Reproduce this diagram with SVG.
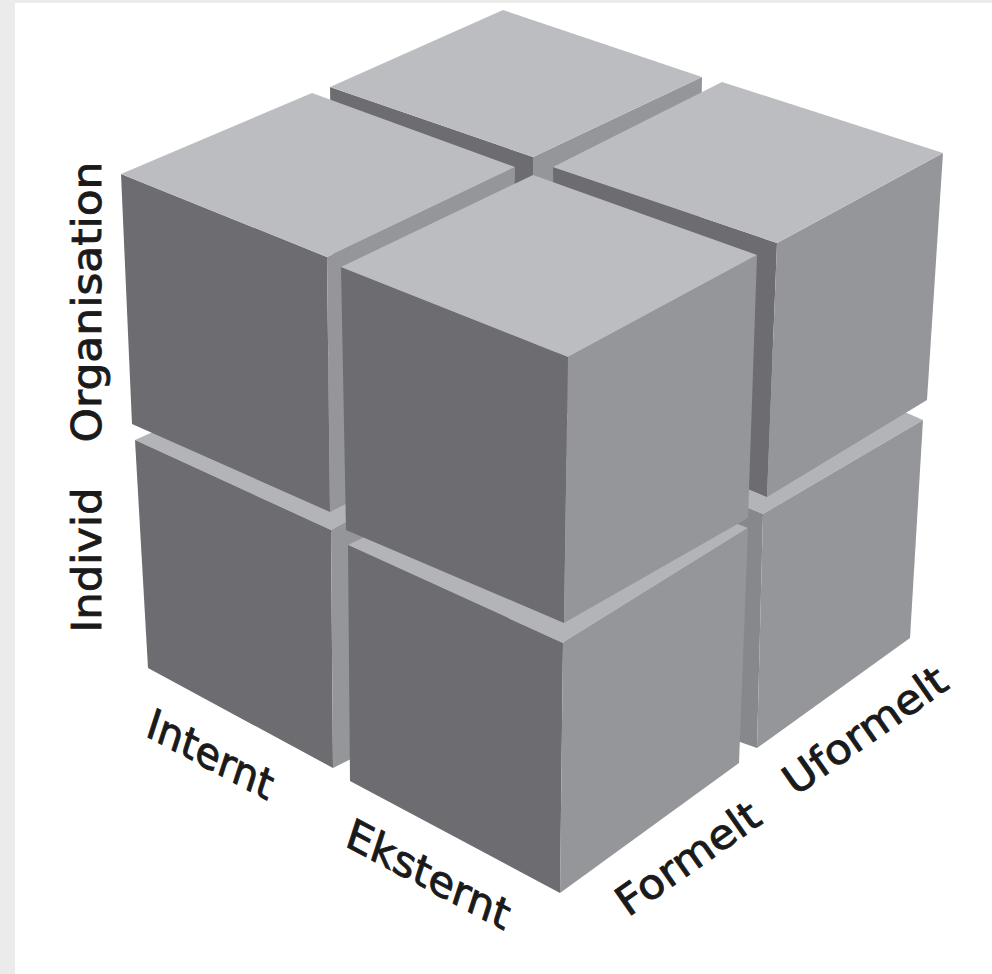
<svg xmlns="http://www.w3.org/2000/svg" width="992" height="974" viewBox="0 0 992 974">
<style>
.top{fill:#bcbdc1}
.band{fill:#b3b4b8}
.dk{fill:#6d6d71}
.md{fill:#95969a}
.md2{fill:#87888c}
.lbl{font-family:"DejaVu Sans","Liberation Sans",sans-serif;font-size:41px;fill:#1a1a1a;stroke:#1a1a1a;stroke-width:0.9px}
</style>
<rect x="0" y="0" width="992" height="974" fill="#ebebeb"/>
<rect x="15" y="3" width="977" height="971" fill="#ffffff"/>

<g id="cube-back-top">
<polygon class="dk" points="330,87 533,157 533,400 334,330"/>
<polygon class="md" points="533,157 702,77 698,330 533,400"/>
<polygon class="top" points="330,87 503,10 702,77 533,157"/>
</g>

<g id="cube-intern-individ">
<polygon class="band" points="135,440 325,355 512,430 331,530"/>
<polygon class="dk" points="135,440 331,530 333,768 148,668"/>
<polygon class="md" points="331,530 512,430 508,680 333,768"/>
</g>

<g id="cube-uformelt-individ">
<polygon class="band" points="560,430 740,340 923,420 763,514"/>
<polygon class="md2" points="560,430 763,514 757,748 565,680"/>
<polygon class="md" points="763,514 923,420 910,638 757,748"/>
</g>

<g id="cube-ekstern-formelt-individ">
<polygon class="band" points="348,545 545,450 748,528 563,643"/>
<polygon class="dk" points="348,545 563,643 560,893 350,781"/>
<polygon class="md" points="563,643 748,528 739,763 560,893"/>
</g>

<g id="cube-intern-organisation">
<polygon class="dk" points="121,174 327,257 330,512 132,424"/>
<polygon class="md" points="327,257 515,167 510,420 330,512"/>
<polygon class="top" points="121,174 312,93 515,167 327,257"/>
</g>

<g id="cube-uformelt-organisation">
<polygon class="dk" points="553,167 777,243 767,497 557,410"/>
<polygon class="md" points="777,243 943,153 927,400 767,497"/>
<polygon class="top" points="553,167 722,82 943,153 777,243"/>
</g>

<g id="cube-ekstern-formelt-organisation">
<polygon class="dk" points="341,267 568,357 564,623 346,530"/>
<polygon class="md" points="568,357 757,255 748,518 564,623"/>
<polygon class="top" points="341,267 533,175 757,255 568,357"/>
</g>

<g id="connectors"></g>

<g id="labels">
<text class="lbl" text-anchor="middle" transform="translate(101,302) rotate(-90)" textLength="281" lengthAdjust="spacingAndGlyphs">Organisation</text>
<text class="lbl" text-anchor="middle" transform="translate(101,560) rotate(-90)" textLength="145" lengthAdjust="spacingAndGlyphs">Individ</text>
<text class="lbl" text-anchor="middle" transform="translate(206,768) rotate(28) skewX(10)" textLength="140" lengthAdjust="spacingAndGlyphs">Internt</text>
<text class="lbl" text-anchor="middle" transform="translate(424,888) rotate(28) skewX(10)" textLength="182" lengthAdjust="spacingAndGlyphs">Eksternt</text>
<text class="lbl" text-anchor="middle" transform="translate(696,870) rotate(-35)" textLength="166" lengthAdjust="spacingAndGlyphs">Formelt</text>
<text class="lbl" text-anchor="middle" transform="translate(873,742) rotate(-35)" textLength="190" lengthAdjust="spacingAndGlyphs">Uformelt</text>
</g>
</svg>
